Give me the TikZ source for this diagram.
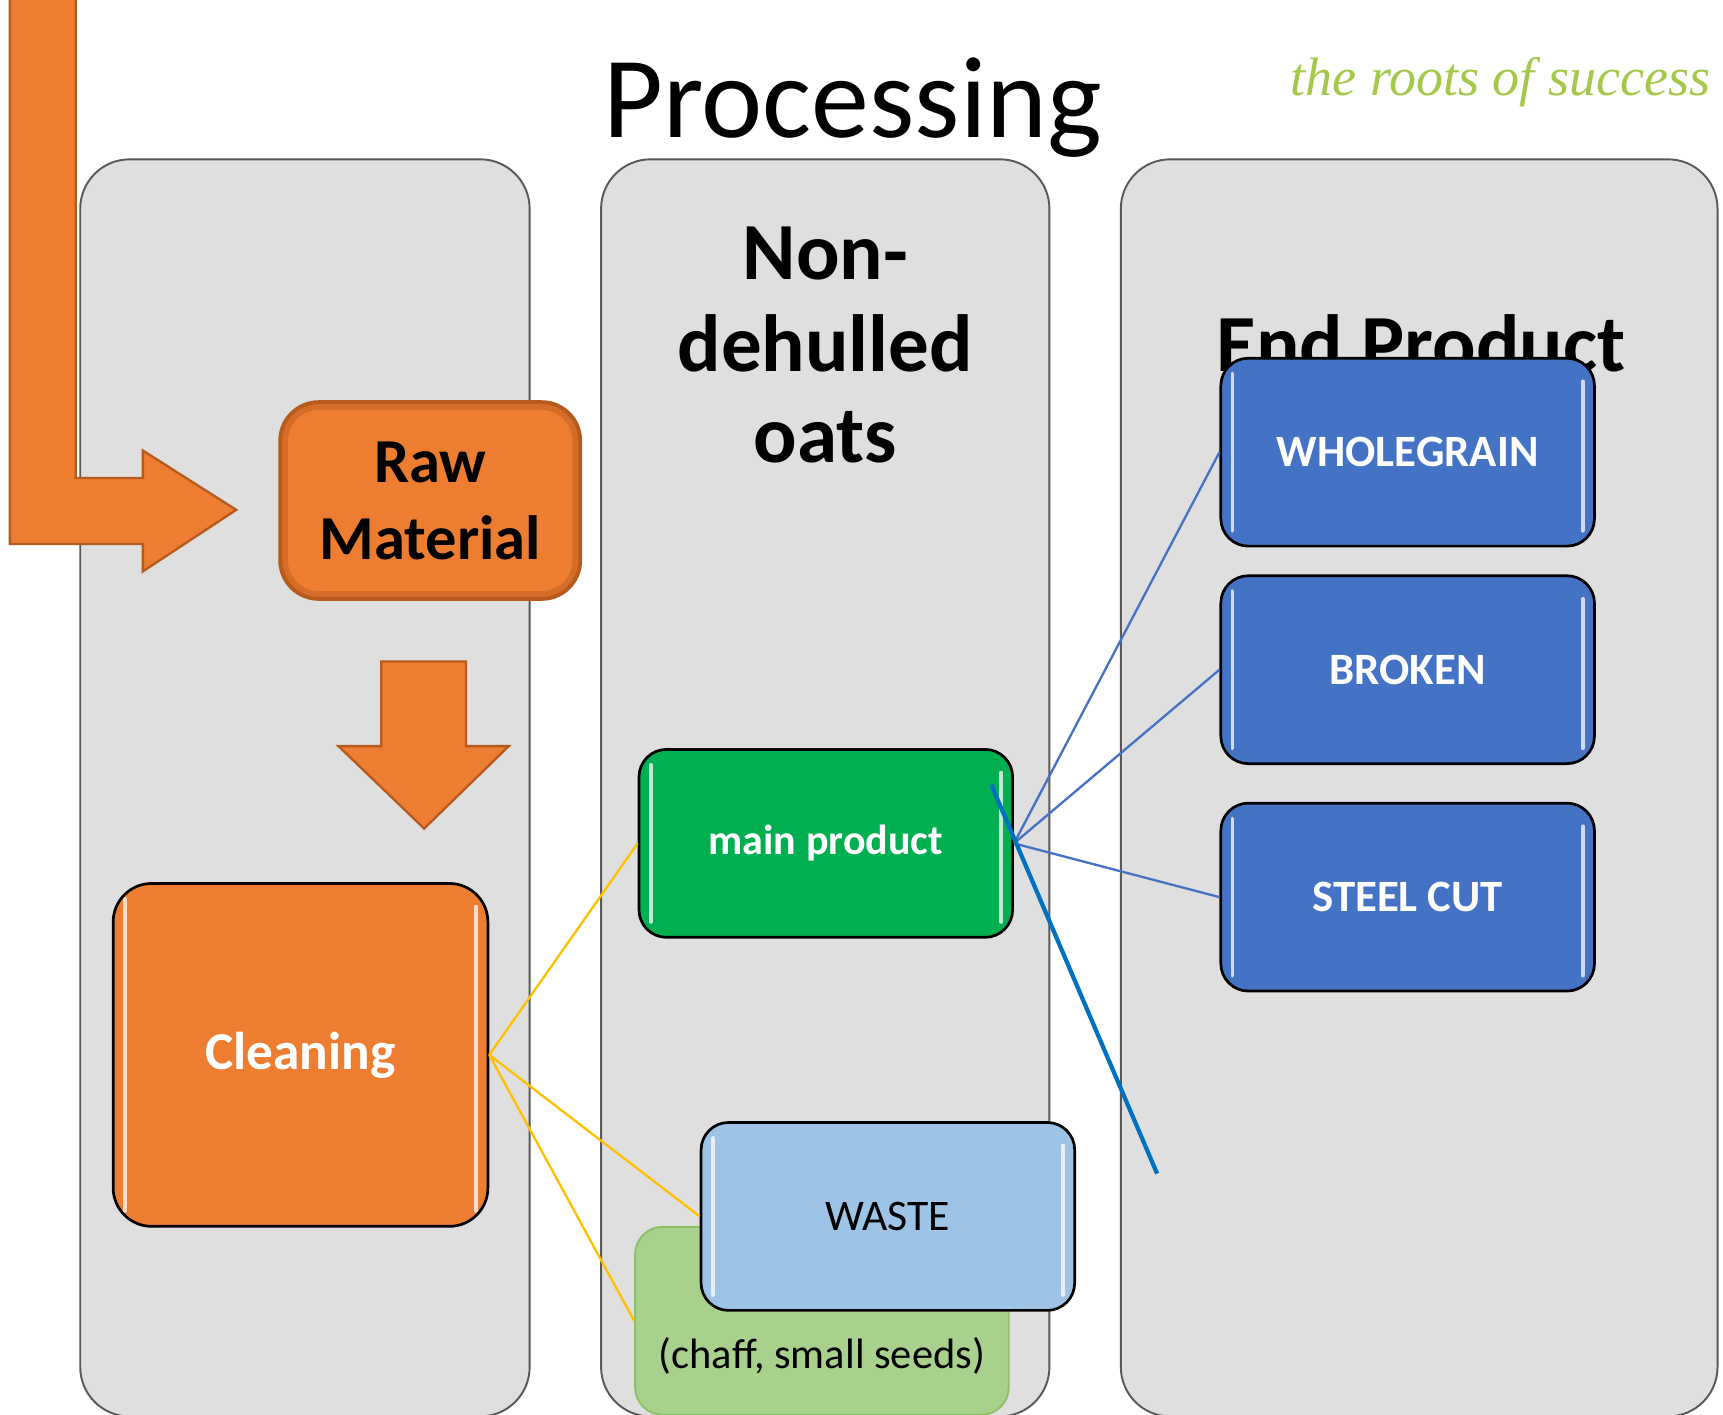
\documentclass[tikz,border=0pt]{standalone}
\usepackage{fontspec}
\setmainfont{Carlito}
\newfontfamily\rootsfont{Liberation Serif}
\usepackage{tikz}
\usetikzlibrary{positioning}
\definecolor{OrangeFill}{HTML}{ED7D31}
\definecolor{OrangeEdge}{HTML}{B65A1E}
\definecolor{PanelFill}{HTML}{DFDFDF}
\definecolor{PanelEdge}{HTML}{595959}
\definecolor{MainGreen}{HTML}{00B050}
\definecolor{EndBlue}{HTML}{4472C4}
\definecolor{WasteBlue}{HTML}{9DC3E6}
\definecolor{ChaffGreen}{HTML}{A9D18E}
\definecolor{ChaffEdge}{HTML}{8CC168}
\definecolor{LinkYellow}{HTML}{FFC000}
\definecolor{StrayBlue}{HTML}{0070C0}
\definecolor{RootsGreen}{HTML}{A5C84B}
\tikzset{
Panel/.style={
 draw=PanelEdge, 
 fill=PanelFill, 
 line width=0.5pt, 
 rounded corners=0.45cm
 },
Gloss/.style={
 path picture={
  \draw[white,line width=1pt,opacity=0.75,line cap=round]
   ([shift={(3pt,-4pt)}]path picture bounding box.north west) -- ([shift={(3pt,4pt)}]path picture bounding box.south west)
   ([shift={(-3pt,-6pt)}]path picture bounding box.north east) -- ([shift={(-3pt,4pt)}]path picture bounding box.south east);
  }
 },
InnerShade/.style={
 path picture={
  \draw[OrangeEdge,line width=4pt,opacity=0.45,rounded corners=0.35cm]
   (path picture bounding box.north west) rectangle (path picture bounding box.south east);
  }
 },
BoxBase/.style={
 draw=black, 
 line width=0.7pt, 
 rounded corners=0.25cm, 
 minimum width=3.4cm, 
 minimum height=1.71cm, 
 inner sep=0pt, 
 align=center
 },
RawBox/.style={
 BoxBase, InnerShade, 
 fill=OrangeFill, 
 draw=OrangeEdge, 
 line width=1pt, 
 rounded corners=0.35cm, 
 minimum width=2.73cm, 
 minimum height=1.79cm, 
 font=\fontsize{16.2}{19.9}\selectfont\bfseries
 },
CleanBox/.style={
 BoxBase, Gloss, 
 fill=OrangeFill, 
 rounded corners=0.35cm, 
 minimum width=3.41cm, 
 minimum height=3.12cm, 
 text=white, 
 font=\fontsize{13.8}{16}\selectfont\bfseries
 },
MainBox/.style={
 BoxBase, Gloss, 
 fill=MainGreen, 
 text=white, 
 font=\fontsize{10.9}{13}\selectfont\bfseries
 },
EndBox/.style={
 BoxBase, Gloss, 
 fill=EndBlue, 
 text=white, 
 font=\fontsize{11.6}{14}\selectfont\bfseries
 },
WasteBox/.style={
 BoxBase, Gloss, 
 fill=WasteBlue, 
 font=\fontsize{11.3}{14}\selectfont
 },
ChaffBox/.style={
 BoxBase, 
 fill=ChaffGreen, 
 draw=ChaffEdge, 
 line width=0.5pt
 },
BlockArrow/.style={
 fill=OrangeFill, 
 draw=OrangeEdge, 
 line width=0.6pt
 },
TitleText/.style={font=\fontsize{30}{36}\selectfont},
HeadText/.style={align=center, font=\fontsize{21}{23.6}\selectfont\bfseries},
RootsText/.style={text=RootsGreen, font=\fontsize{14}{17}\rootsfont\itshape},
YellowLink/.style={draw=LinkYellow, line width=0.6pt},
BlueLink/.style={draw=EndBlue, line width=0.6pt},
StrayLink/.style={draw=StrayBlue, line width=1.1pt}
}
\begin{document}
\begin{tikzpicture}
\useasboundingbox (0,0) rectangle (15.68,12.87);
% columns
\draw[Panel] (0.73,-0.02) rectangle (4.82,11.42);
\draw[Panel] (5.47,-0.02) rectangle (9.55,11.42);
\draw[Panel] (10.20,-0.02) rectangle (15.63,11.42);
% titles
\node[TitleText,anchor=base] (title) at (7.76,11.62) {Processing};
\node[RootsText,anchor=base west] (roots) at (11.62,12.00) {the roots of success};
\node[HeadText] (nondehulled) at (7.51,9.73) {Non-\\dehulled\\oats};
\node[HeadText,anchor=base] (endprod) at (12.93,9.49) {End Product};
% block arrows
\draw[BlockArrow] (0.09,13.1) -- (0.69,13.1) -- (0.69,8.52) -- (1.30,8.52) -- (1.30,8.77) -- (2.15,8.23)
 -- (1.30,7.67) -- (1.30,7.92) -- (0.09,7.92) -- cycle;
\draw[BlockArrow] (3.47,6.85) -- (4.24,6.85) -- (4.24,6.08) -- (4.63,6.08) -- (3.86,5.33) -- (3.08,6.08)
 -- (3.47,6.08) -- cycle;
% boxes
\node[RawBox] (raw) at (3.915,8.315) {Raw\\Material};
\node[CleanBox] (clean) at (2.735,3.27) {Cleaning};
\node[MainBox] (main) at (7.515,5.195) {main product};
\node[ChaffBox,label={[yshift=-0.32cm,font=\fontsize{11}{13}\selectfont]center:(chaff, small seeds)}] (chaff) at (7.48,0.85) {};
\node[WasteBox] (waste) at (8.08,1.80) {WASTE};
\node[EndBox] (whole) at (12.81,8.755) {WHOLEGRAIN};
\node[EndBox,below=0.245 of whole] (broken) {BROKEN};
\node[EndBox,below=0.335 of broken] (steel) {STEEL CUT};
% links
\foreach \n in {main,waste,chaff} \draw[YellowLink] (clean.east) -- (\n.west);
\foreach \n in {whole,broken,steel} \draw[BlueLink] (main.east) -- (\n.west);
\coordinate (strayA) at (9.02,5.73);
\coordinate (strayB) at (10.53,2.19);
\draw[StrayLink] (strayA) -- (strayB);
\end{tikzpicture}
\end{document}
